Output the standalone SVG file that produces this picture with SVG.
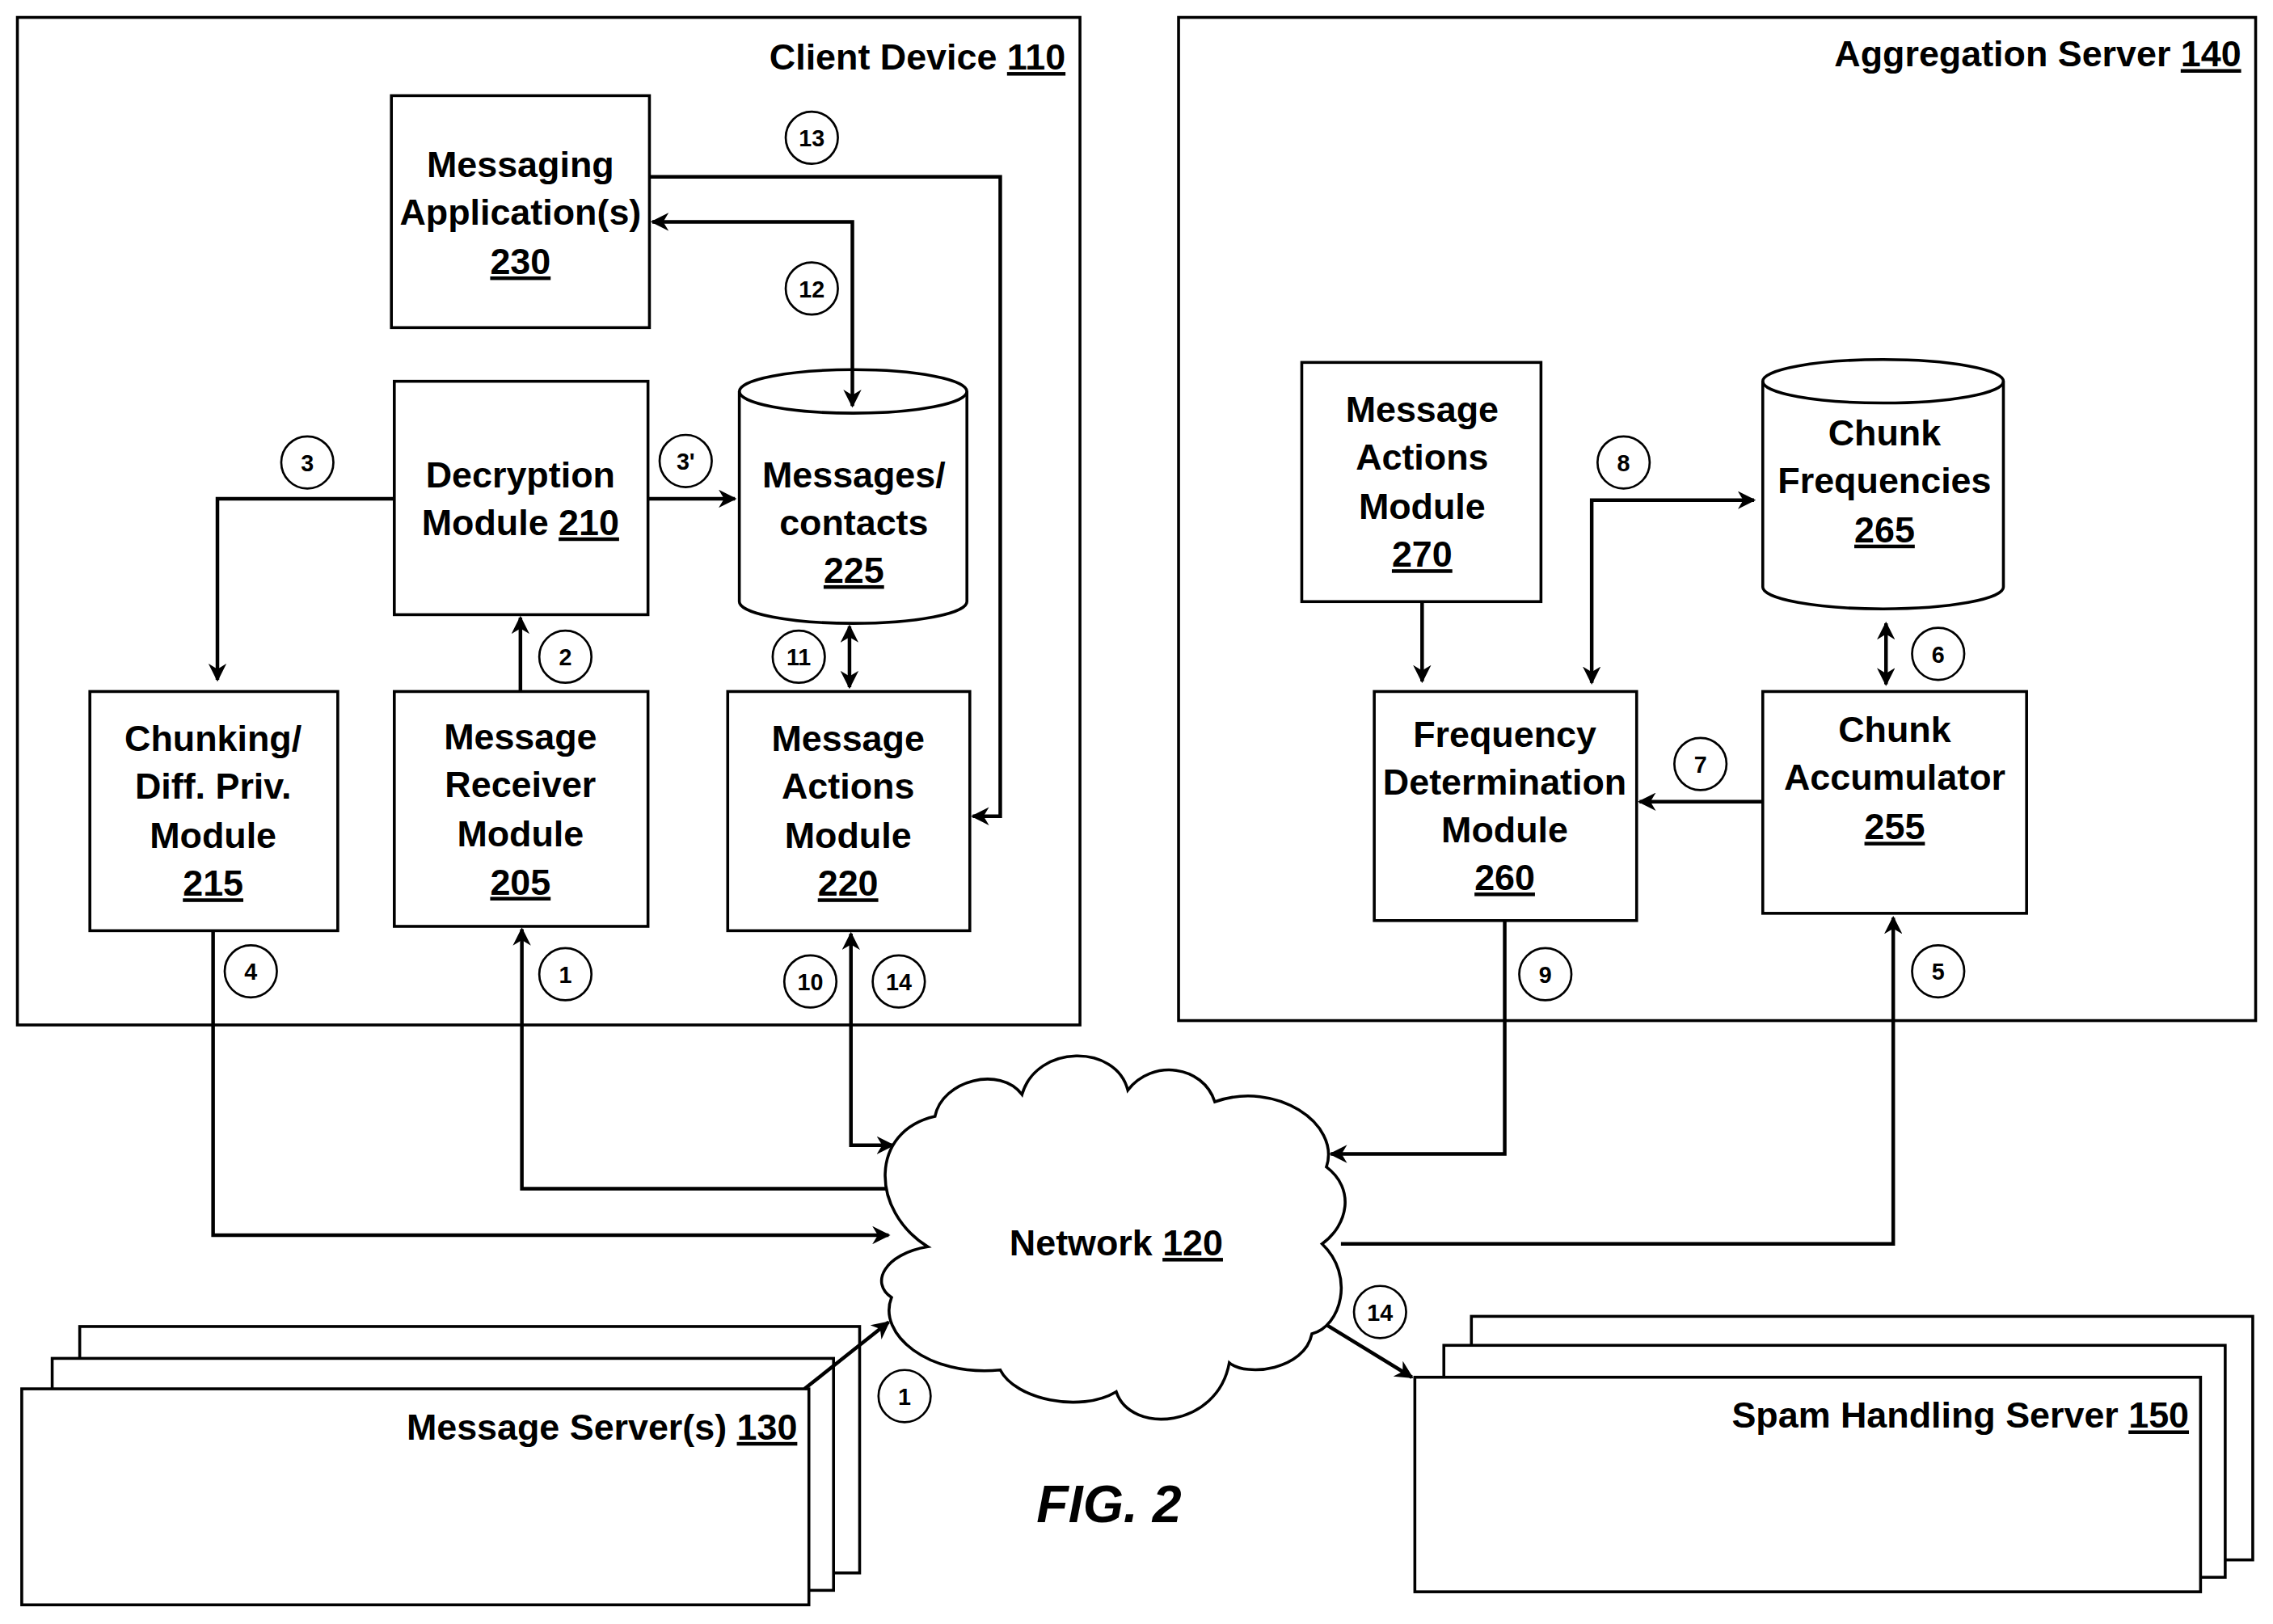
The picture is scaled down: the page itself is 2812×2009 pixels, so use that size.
<svg xmlns="http://www.w3.org/2000/svg" width="2812" height="2009" viewBox="0 0 2812 2009">
<defs>
<style>
.b{fill:#fff;stroke:#000;stroke-width:2}
.t{font-family:"Liberation Sans Narrow","Liberation Sans",Arial,sans-serif;font-weight:bold;font-size:25px;text-anchor:middle;fill:#000}
.r{text-anchor:end}
.c{fill:#fff;stroke:#000;stroke-width:1.5}
.ct{font-family:"Liberation Sans Narrow","Liberation Sans",Arial,sans-serif;font-weight:bold;font-size:16px;text-anchor:middle;fill:#000}
.l{fill:none;stroke:#000;stroke-width:2.5}
</style>
<marker id="a" viewBox="0 0 10 10" refX="9" refY="5" markerWidth="5" markerHeight="5" orient="auto-start-reverse"><path d="M0,0 L10,5 L0,10 L3,5 z" fill="#000"/></marker>
</defs>
<rect width="2812" height="2009" fill="#fff"/>
<g transform="scale(1.7934)">
<g id="client"><rect class="b" x="12" y="12" width="733" height="695"/><text class="t r" x="735" y="48">Client Device <tspan text-decoration="underline">110</tspan></text></g>
<g id="agg"><rect class="b" x="813" y="12" width="743" height="692"/><text class="t r" x="1546" y="46">Aggregation Server <tspan text-decoration="underline">140</tspan></text></g>
<g id="n230"><rect class="b" x="270" y="66" width="178" height="160"/><text class="t" x="359" y="122">Messaging</text><text class="t" x="359" y="155">Application(s)</text><text class="t" x="359" y="189" text-decoration="underline">230</text></g>
<g id="n210"><rect class="b" x="272" y="263" width="175" height="161"/><text class="t" x="359" y="336">Decryption</text><text class="t" x="359" y="369">Module <tspan text-decoration="underline">210</tspan></text></g>
<g id="n225"><path class="b" d="M510,270 A78.5,15 0 0 1 667,270 L667,415 A78.5,15 0 0 1 510,415 Z"/><path class="l" style="stroke-width:2" d="M510,270 A78.5,15 0 0 0 667,270"/><text class="t" x="589" y="336">Messages/</text><text class="t" x="589" y="369">contacts</text><text class="t" x="589" y="402" text-decoration="underline">225</text></g>
<g id="n215"><rect class="b" x="62" y="477" width="171" height="165"/><text class="t" x="147" y="518">Chunking/</text><text class="t" x="147" y="551">Diff. Priv.</text><text class="t" x="147" y="585">Module</text><text class="t" x="147" y="618" text-decoration="underline">215</text></g>
<g id="n205"><rect class="b" x="272" y="477" width="175" height="162"/><text class="t" x="359" y="517">Message</text><text class="t" x="359" y="550">Receiver</text><text class="t" x="359" y="584">Module</text><text class="t" x="359" y="617" text-decoration="underline">205</text></g>
<g id="n220"><rect class="b" x="502" y="477" width="167" height="165"/><text class="t" x="585" y="518">Message</text><text class="t" x="585" y="551">Actions</text><text class="t" x="585" y="585">Module</text><text class="t" x="585" y="618" text-decoration="underline">220</text></g>
<g id="n270"><rect class="b" x="898" y="250" width="165" height="165"/><text class="t" x="981" y="291">Message</text><text class="t" x="981" y="324">Actions</text><text class="t" x="981" y="358">Module</text><text class="t" x="981" y="391" text-decoration="underline">270</text></g>
<g id="n265"><path class="b" d="M1216,263 A83,15 0 0 1 1382,263 L1382,405 A83,15 0 0 1 1216,405 Z"/><path class="l" style="stroke-width:2" d="M1216,263 A83,15 0 0 0 1382,263"/><text class="t" x="1300" y="307">Chunk</text><text class="t" x="1300" y="340">Frequencies</text><text class="t" x="1300" y="374" text-decoration="underline">265</text></g>
<g id="n260"><rect class="b" x="948" y="477" width="181" height="158"/><text class="t" x="1038" y="515">Frequency</text><text class="t" x="1038" y="548">Determination</text><text class="t" x="1038" y="581">Module</text><text class="t" x="1038" y="614" text-decoration="underline">260</text></g>
<g id="n255"><rect class="b" x="1216" y="477" width="182" height="153"/><text class="t" x="1307" y="512">Chunk</text><text class="t" x="1307" y="545">Accumulator</text><text class="t" x="1307" y="579" text-decoration="underline">255</text></g>
<g id="n130"><rect class="b" x="55" y="915" width="538" height="170"/><rect class="b" x="36" y="937" width="539" height="160"/><rect class="b" x="15" y="958" width="543" height="149"/><text class="t r" x="550" y="993">Message Server(s) <tspan text-decoration="underline">130</tspan></text></g>
<g id="n150"><rect class="b" x="1015" y="908" width="539" height="168"/><rect class="b" x="996" y="928" width="539" height="160"/><rect class="b" x="976" y="950" width="542" height="148"/><text class="t r" x="1510" y="985">Spam Handling Server <tspan text-decoration="underline">150</tspan></text></g>
<g id="connectors">
<path class="l" d="M448,122 H690 V563 H671" marker-end="url(#a)"/>
<path class="l" d="M450,153 H588 V280" marker-start="url(#a)" marker-end="url(#a)"/>
<path class="l" d="M272,344 H150 V469" marker-end="url(#a)"/>
<path class="l" d="M447,344 H507" marker-end="url(#a)"/>
<path class="l" d="M359,477 V426" marker-end="url(#a)"/>
<path class="l" d="M586,432 V474" marker-start="url(#a)" marker-end="url(#a)"/>
<path class="l" d="M147,642 V852 H613" marker-end="url(#a)"/>
<path class="l" d="M612,820 H360 V641" marker-end="url(#a)"/>
<path class="l" d="M587,644 V790 H616" marker-start="url(#a)" marker-end="url(#a)"/>
<path class="l" d="M1038,635 V796 H918" marker-end="url(#a)"/>
<path class="l" d="M925,858 H1306 V633" marker-end="url(#a)"/>
<path class="l" d="M1301,430 V472" marker-start="url(#a)" marker-end="url(#a)"/>
<path class="l" d="M1216,553 H1131" marker-end="url(#a)"/>
<path class="l" d="M1210,345 H1098 V471" marker-start="url(#a)" marker-end="url(#a)"/>
<path class="l" d="M981,415 V470" marker-end="url(#a)"/>
<path class="l" d="M555,958 L613,912" marker-end="url(#a)"/>
<path class="l" d="M912,912 L974,950" marker-end="url(#a)"/>
</g>
<g id="n120"><path class="b" d="M640,860 C600,835 600,780 645,770 C650,745 690,735 705,755 C715,720 770,720 778,752 C795,730 830,735 838,760 C880,745 925,775 915,805 C935,820 930,845 912,858 C935,880 925,915 905,920 C900,945 860,950 848,940 C840,985 780,990 770,960 C745,975 700,965 690,945 C640,950 605,920 615,895 C600,885 610,865 640,860 Z"/><text class="t" x="770" y="866">Network <tspan text-decoration="underline">120</tspan></text></g>
<g id="labels">
<circle class="c" cx="560" cy="95" r="18"/><text class="ct" x="560" y="101">13</text>
<circle class="c" cx="560" cy="199" r="18"/><text class="ct" x="560" y="205">12</text>
<circle class="c" cx="212" cy="319" r="18"/><text class="ct" x="212" y="325">3</text>
<circle class="c" cx="473" cy="318" r="18"/><text class="ct" x="473" y="324">3'</text>
<circle class="c" cx="390" cy="453" r="18"/><text class="ct" x="390" y="459">2</text>
<circle class="c" cx="551" cy="453" r="18"/><text class="ct" x="551" y="459">11</text>
<circle class="c" cx="173" cy="670" r="18"/><text class="ct" x="173" y="676">4</text>
<circle class="c" cx="390" cy="672" r="18"/><text class="ct" x="390" y="678">1</text>
<circle class="c" cx="559" cy="677" r="18"/><text class="ct" x="559" y="683">10</text>
<circle class="c" cx="620" cy="677" r="18"/><text class="ct" x="620" y="683">14</text>
<circle class="c" cx="1066" cy="672" r="18"/><text class="ct" x="1066" y="678">9</text>
<circle class="c" cx="1337" cy="670" r="18"/><text class="ct" x="1337" y="676">5</text>
<circle class="c" cx="1337" cy="451" r="18"/><text class="ct" x="1337" y="457">6</text>
<circle class="c" cx="1173" cy="527" r="18"/><text class="ct" x="1173" y="533">7</text>
<circle class="c" cx="1120" cy="319" r="18"/><text class="ct" x="1120" y="325">8</text>
<circle class="c" cx="624" cy="963" r="18"/><text class="ct" x="624" y="969">1</text>
<circle class="c" cx="952" cy="905" r="18"/><text class="ct" x="952" y="911">14</text>
<text class="t" x="765" y="1050" style="font-size:36px;font-style:italic">FIG. 2</text>
</g>
</g>
</svg>
